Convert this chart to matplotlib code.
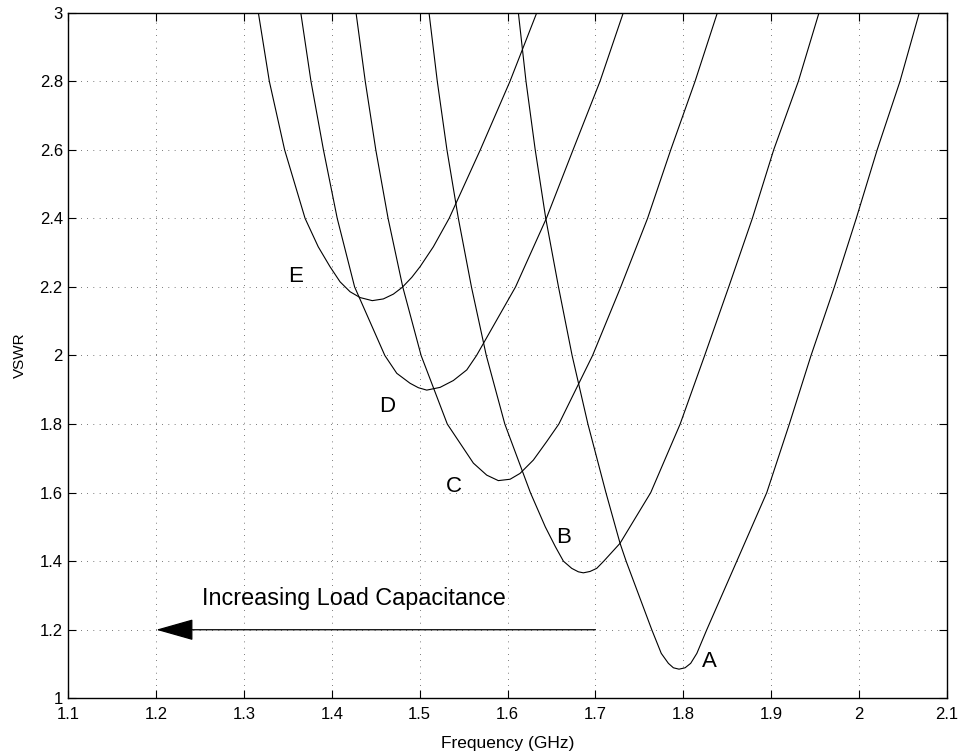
import matplotlib
matplotlib.use("Agg")
import matplotlib.pyplot as plt
from matplotlib.ticker import FuncFormatter

plt.rcParams['font.family'] = ['Liberation Sans', 'DejaVu Sans']

# frequency (GHz) / VSWR, curve by curve
fA = [1.6123, 1.6210, 1.6315, 1.6435, 1.6580, 1.6735, 1.6915, 1.7120, 1.7281, 1.7350,
      1.7642, 1.7750, 1.7831, 1.7888, 1.7952, 1.8021, 1.8085, 1.8155, 1.8268, 1.8610,
      1.8951, 1.9208, 1.9455, 1.9721, 1.9970, 2.0208, 2.0468, 2.0688]
vA = [3.0, 2.8, 2.6, 2.4, 2.2, 2.0, 1.8, 1.6, 1.452, 1.4,
      1.2, 1.131, 1.102, 1.089, 1.085, 1.089, 1.102, 1.131, 1.2, 1.4,
      1.6, 1.8, 2.0, 2.2, 2.4, 2.6, 2.8, 3.0]

fB = [1.5106, 1.5200, 1.5310, 1.5440, 1.5589, 1.5758, 1.5969, 1.6260, 1.6430, 1.6545,
      1.6636, 1.6731, 1.6806, 1.6863, 1.6939, 1.7015, 1.7095, 1.7280, 1.7630, 1.7965,
      1.8244, 1.8518, 1.8787, 1.9030, 1.9311, 1.9546]
vB = [3.0, 2.8, 2.6, 2.4, 2.2, 2.0, 1.8, 1.6, 1.5, 1.442,
      1.4, 1.379, 1.369, 1.366, 1.370, 1.379, 1.4, 1.452, 1.6, 1.8,
      2.0, 2.2, 2.4, 2.6, 2.8, 3.0]

fC = [1.4275, 1.4380, 1.4500, 1.4640, 1.4807, 1.5016, 1.5314, 1.5611, 1.5763, 1.5895,
      1.6029, 1.6142, 1.6294, 1.6446, 1.6584, 1.6968, 1.7289, 1.7594, 1.7858, 1.8135, 1.8389]
vC = [3.0, 2.8, 2.6, 2.4, 2.2, 2.0, 1.8, 1.686, 1.651, 1.635,
      1.639, 1.656, 1.695, 1.749, 1.8, 2.0, 2.2, 2.4, 2.6, 2.8, 3.0]

fD = [1.3646, 1.3762, 1.3904, 1.4061, 1.4259, 1.4603, 1.4739, 1.4890, 1.4985, 1.5080,
      1.5232, 1.5383, 1.5536, 1.5647, 1.6091, 1.6442, 1.6746, 1.7053, 1.7318]
vD = [3.0, 2.8, 2.6, 2.4, 2.2, 2.0, 1.948, 1.919, 1.906, 1.899,
      1.907, 1.927, 1.958, 2.0, 2.2, 2.4, 2.6, 2.8, 3.0]

fE = [1.3163, 1.3288, 1.3462, 1.3695, 1.3845, 1.3979, 1.4093, 1.4207, 1.4321, 1.4460,
      1.4586, 1.4700, 1.4802, 1.4910, 1.5004, 1.5155, 1.5335, 1.5690, 1.6028, 1.6333]
vE = [3.0, 2.8, 2.6, 2.4, 2.317, 2.259, 2.215, 2.186, 2.169, 2.160,
      2.165, 2.179, 2.199, 2.228, 2.259, 2.317, 2.4, 2.6, 2.8, 3.0]

curve_names = ["A", "B", "C", "D", "E"]
name_x = [1.8296, 1.6635, 1.5389, 1.4630, 1.3584]
name_y = [1.108, 1.468, 1.618, 1.850, 2.229]

arrow_from = (1.7, 1.2)
arrow_to = (1.2, 1.2)
arrow_text = "Increasing Load Capacitance"

fig = plt.figure(figsize=(9.64, 7.55), dpi=100)
ax = fig.add_axes([0.0709, 0.0751, 0.9112, 0.9081])

for f, v in [(fA, vA), (fB, vB), (fC, vC), (fD, vD), (fE, vE)]:
    ax.plot(f, v, color="k", lw=0.8)

for n, x, y in zip(curve_names, name_x, name_y):
    ax.text(x, y, n, fontsize=16, ha="center", va="center")

ax.annotate("", xy=arrow_to, xytext=arrow_from,
            arrowprops=dict(arrowstyle="-|>,head_length=2.4,head_width=0.68",
                            mutation_scale=10, color="k", lw=0.9,
                            shrinkA=0, shrinkB=0))
ax.text(1.252, 1.272, arrow_text, fontsize=16.8, ha="left", va="baseline")

ax.set_xlim(1.1, 2.1)
ax.set_ylim(1, 3)
ax.set_xticks([1.1 + 0.1 * i for i in range(11)])
ax.set_yticks([1 + 0.2 * i for i in range(11)])
fmt = FuncFormatter(lambda t, p: "%g" % round(t, 2))
ax.xaxis.set_major_formatter(fmt)
ax.yaxis.set_major_formatter(fmt)
ax.tick_params(direction="in", length=5.5, width=0.8, labelsize=12,
               top=True, right=True, pad=4)
ax.tick_params(axis="x", pad=6)
ax.grid(True, color="k", lw=0.5, linestyle=(0, (1, 8)))
for s in ax.spines.values():
    s.set_linewidth(1.0)

ax.set_xlabel("Frequency (GHz)", fontsize=12.5, labelpad=10)
ax.set_ylabel("VSWR", fontsize=11, labelpad=9)

fig.savefig("out.png", dpi=100)
